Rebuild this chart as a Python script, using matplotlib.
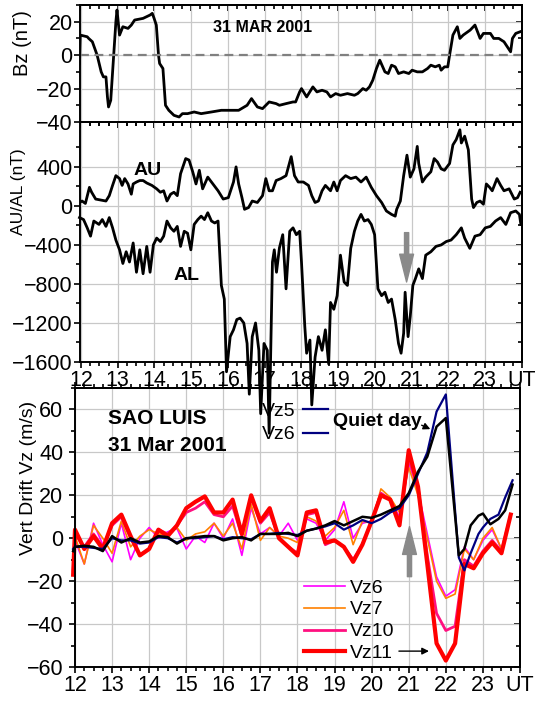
import matplotlib
matplotlib.use('Agg')
import matplotlib.pyplot as plt
from matplotlib.ticker import MultipleLocator, FixedLocator
from matplotlib.lines import Line2D

plt.rcParams['font.family'] = ['Liberation Sans', 'DejaVu Sans']
plt.rcParams['font.size'] = 14

# ---- IMF Bz (nT) ----
bz_t = [11.96, 11.98, 12.17, 12.21, 12.31, 12.44, 12.55, 12.61, 12.68, 12.72, 12.75, 12.81, 12.95, 12.98,
        13.05, 13.14, 13.28, 13.37, 13.46, 13.69, 13.88, 13.94, 13.99, 14.05, 14.11, 14.14, 14.23, 14.30,
        14.39, 14.53, 14.67, 14.76, 14.90, 15.08, 15.27, 15.55, 15.82, 16.29, 16.52, 16.64, 16.80, 16.94,
        17.12, 17.31, 17.40, 17.58, 17.77, 17.84, 17.95, 18.00, 18.14, 18.31, 18.42, 18.56, 18.69, 18.79,
        18.93, 19.06, 19.25, 19.44, 19.53, 19.67, 19.76, 19.85, 19.94, 20.04, 20.13, 20.19, 20.27, 20.36,
        20.45, 20.55, 20.64, 20.78, 20.92, 21.01, 21.15, 21.29, 21.43, 21.52, 21.64, 21.75, 21.80, 21.89,
        21.98, 22.03, 22.12, 22.24, 22.31, 22.40, 22.59, 22.72, 22.86, 22.95, 23.14, 23.23, 23.37, 23.51,
        23.60, 23.69, 23.74, 23.83, 23.95]
bz_v = [-5, 12, 11, 10, 8, 0, -10, -13, -13, -25, -31, -27, 20, 27,
        12, 17, 16, 18, 21, 22, 24, 25, 22, 18, 0, -5, -8, -30,
        -33, -36, -37, -35, -35, -34, -35, -34, -33, -33, -30, -26, -31, -32,
        -28, -29, -30, -29, -28, -28, -22, -20, -25, -19, -22, -21, -22, -25,
        -23, -24, -23, -24, -23, -20, -21, -19, -15, -8, -3, -6, -10, -11,
        -6, -7, -11, -10, -11, -9, -10, -10, -8, -6, -7, -6, -9, -7,
        -7, 0, 12, 17, 10, 12, 15, 18, 10, 13, 13, 10, 10, 8,
        5, 2, 10, 13, 14]

# ---- AU / AL (nT) ----
au_t = [11.96, 12.03, 12.12, 12.23, 12.29, 12.40, 12.54, 12.68, 12.77, 12.86,
        12.95, 13.05, 13.12, 13.19, 13.28, 13.37, 13.42, 13.51, 13.60, 13.69,
        13.79, 13.93, 14.06, 14.16, 14.25, 14.34, 14.44, 14.53, 14.62, 14.71,
        14.85, 14.94, 15.04, 15.13, 15.22, 15.31, 15.45, 15.59, 15.73, 15.87,
        16.01, 16.15, 16.22, 16.29, 16.38, 16.45, 16.56, 16.66, 16.80, 16.94,
        17.03, 17.12, 17.21, 17.31, 17.44, 17.58, 17.72, 17.81, 17.91, 18.05,
        18.19, 18.28, 18.37, 18.46, 18.56, 18.65, 18.79, 18.88, 18.97, 19.06,
        19.20, 19.34, 19.48, 19.62, 19.76, 19.90, 20.04, 20.18, 20.31, 20.45,
        20.55, 20.59, 20.69, 20.78, 20.87, 20.96, 21.06, 21.15, 21.19, 21.29,
        21.38, 21.52, 21.61, 21.70, 21.80, 21.89, 22.03, 22.12, 22.21, 22.31,
        22.35, 22.44, 22.54, 22.63, 22.68, 22.77, 22.86, 22.95, 23.03, 23.12,
        23.19, 23.32, 23.42, 23.51, 23.65, 23.79, 23.88, 23.95]
au_v = [35, 50, 25, 190, 140, 70, 60, 50, 105, 210,
        310, 280, 210, 280, 225, 120, 225, 245, 260, 260,
        235, 210, 175, 140, 155, 50, 120, 140, 105, 330,
        485, 470, 350, 225, 365, 175, 295, 225, 155, 70,
        85, 245, 400, 225, 85, -35, -17, 50, 35, 105,
        280, 155, 155, 260, 280, 310, 505, 310, 245, 245,
        210, 105, 35, 50, 155, 210, 155, 245, 155, 260,
        310, 280, 295, 245, 295, 190, 105, 35, -52, -87,
        -105, -35, 50, 310, 520, 295, 380, 610, 435, 245,
        295, 350, 485, 450, 380, 365, 435, 625, 680, 780,
        645, 715, 575, 70, -17, 35, 50, 17, 225, 190,
        155, 280, 210, 155, 175, 70, 85, 140]
al_t = [11.96, 12.07, 12.17, 12.26, 12.35, 12.49, 12.58, 12.68, 12.77, 12.86,
        12.95, 13.05, 13.14, 13.23, 13.32, 13.42, 13.51, 13.60, 13.69, 13.79,
        13.88, 13.97, 14.06, 14.16, 14.25, 14.34, 14.44, 14.53, 14.62, 14.71,
        14.81, 14.90, 14.99, 15.08, 15.18, 15.27, 15.36, 15.45, 15.55, 15.64,
        15.73, 15.82, 15.90, 15.96, 16.06, 16.15, 16.24, 16.33, 16.43, 16.52,
        16.58, 16.66, 16.75, 16.84, 16.89, 16.98, 17.07, 17.12, 17.21, 17.26,
        17.32, 17.40, 17.49, 17.58, 17.68, 17.77, 17.86, 17.95, 18.00, 18.09,
        18.14, 18.23, 18.28, 18.37, 18.46, 18.56, 18.65, 18.74, 18.79, 18.88,
        18.97, 19.06, 19.16, 19.25, 19.34, 19.44, 19.53, 19.62, 19.71, 19.81,
        19.90, 19.99, 20.08, 20.18, 20.27, 20.36, 20.45, 20.55, 20.64, 20.71,
        20.78, 20.82, 20.90, 20.96, 21.03, 21.10, 21.19, 21.29, 21.38, 21.52,
        21.66, 21.80, 21.94, 22.07, 22.21, 22.35, 22.44, 22.58, 22.72, 22.86,
        23.00, 23.14, 23.28, 23.42, 23.56, 23.69, 23.83, 23.93, 23.97]
al_v = [-120, -140, -225, -310, -155, -190, -140, -210, -120, -225,
        -350, -450, -590, -470, -575, -380, -680, -450, -695, -415,
        -680, -400, -330, -365, -310, -155, -225, -260, -210, -415,
        -260, -280, -450, -190, -140, -105, -140, -70, -155, -175,
        -155, -815, -955, -1700, -1340, -1270, -1165, -1150, -1200, -1410,
        -1930, -1340, -1200, -1480, -2130, -1410, -1480, -2330, -575, -450,
        -680, -430, -295, -850, -260, -225, -295, -260, -575, -1235,
        -1510, -1375, -2040, -1550, -1340, -1480, -1270, -1620, -990, -1060,
        -920, -505, -780, -815, -435, -260, -155, -87, -155, -140,
        -190, -295, -850, -920, -885, -990, -955, -1165, -1410, -1510,
        -1305, -885, -1340, -1130, -815, -745, -645, -745, -505, -470,
        -415, -400, -365, -350, -295, -225, -330, -435, -310, -295,
        -225, -210, -155, -120, -190, -70, -52, -87, -190]

# ---- vertical drift Vz (m/s), Sao Luis ----
vz_t = [11.95, 12.0, 12.25, 12.5, 12.75, 13.0, 13.25, 13.5, 13.75, 14.0, 14.25, 14.5, 14.75,
        15.0, 15.25, 15.5, 15.75, 16.0, 16.25, 16.5, 16.75, 17.0, 17.25, 17.5, 17.75,
        18.0, 18.25, 18.5, 18.75, 19.0, 19.25, 19.5, 19.75, 20.0, 20.25, 20.5, 20.75,
        21.0, 21.25, 21.5, 21.75, 22.0, 22.25, 22.5, 22.75, 23.0, 23.25, 23.5, 23.75]
vz11 = [-17, 4, -5, 1, -5, 7, 11, 1, -8, -5, 4, 1, 6, 14, 17, 19.5, 12, 12, 18, 2, 20, 8, 14, 0, -4,
        -8, 12, 13, -2, -1, -4, -11, -3, 8, 20, 18, 6, 41, 24, -12, -49, -57, -49, -12, -14, -7, -2, -7, 11]
vz10 = [-15, 2, -4, 2, -4, 6, 10, 0, -8, -5, 4, 2, 6, 12, 14, 17, 11, 10, 15, 1, 19, 7, 12, 0, -4,
        -7, 11, 12, -3, -1, -4, -10, -3, 8, 21, 18, 8, 37, 24, -8, -35, -43, -41, -10, -13, -6, -1, -6, 11]
vz7 = [-10, 1, -12, 6, 0, -7, 8, -4, 1, 4, 2, 1.5, 5, -1, 2, 3, 7, 1, 7, -5, 16, -1, 5, 1, 0,
       -2, 10, 8, 1, 5, 13, -3, 8, 7, 23, 19, 12, 33, 20, 0, -20, -28, -26, -5, -10, 0, 5, -5]
vz6 = [-12, -1, -12, 7, -3, -11, 7, -10, 0, 5, 0, 3, 4.5, -5, 1, -2, 7, 0, 9, -8, 14, 2, 5, 1, 7,
       -1, 9, 7, -1, 4, 17, 0, 7, 8, 21, 18, 10, 35, 22, 2, -18, -27, -24, -4, -10, -1, 4, -5]
q_t = [11.95, 12.0, 12.25, 12.5, 12.75, 13.0, 13.25, 13.5, 13.75, 14.0, 14.25, 14.5, 14.75,
       15.0, 15.25, 15.5, 15.75, 16.0, 16.25, 16.5, 16.75, 17.0, 17.25, 17.5, 17.75,
       18.0, 18.25, 18.5, 18.75, 19.0, 19.25, 19.5, 19.75, 20.0, 20.25, 20.5, 20.75,
       21.0, 21.25, 21.5, 21.75, 22.0, 22.35, 22.5, 22.67, 22.88, 23.0, 23.2, 23.42, 23.6, 23.8]
quiet = [-6, -4, -3.5, -4, -6, 1, -2, 0, -2, -1.5, 1, 0.5, -2.5, 0, 0.5, 1, 1, -1, 0, 0.5, -1, 2, 2, 2, 2.5,
         1, 3.5, 4.5, 6, 8, 6, 8, 10, 9.5, 11, 13, 15, 21, 31, 38, 52, 56, -8, -5, 6, 10.5, 11.5, 6.5, 9, 13, 25]
vz5 = [-5, -4, -4, -4.5, -5, 0, -1, -1, -2.5, -2, 0.5, 0, -2, 0, 0, 0.5, 1, -0.5, 0.5, 0, -0.5, 2, 2, 2.5, 2,
       1.5, 3.5, 4.5, 5.5, 7, 4, 6, 8.5, 7, 9, 12, 14, 20, 30, 40, 59, 67, -9, -15, -7, 2, 5, 9, 11, 19, 27]

hours = list(range(12, 25))
hour_labels = [str(h) for h in range(12, 24)] + ['UT']

W, H = 535, 702
fig = plt.figure(figsize=(W / 100, H / 100), dpi=100)


def box(l, t, r, b):
    return [l / W, 1 - b / H, (r - l) / W, (b - t) / H]


ax1 = fig.add_axes(box(79.5, 5, 522, 122))
ax2 = fig.add_axes(box(79.5, 122, 522, 362))
ax3 = fig.add_axes(box(75, 388, 520, 667))
ax2.set_zorder(5)
ax2.patch.set_alpha(0)

TICKFS = 15.5


def style(ax, ymaj, ymin, topdir, ypad, xlabels):
    ax.set_xticks(hours)
    ax.xaxis.set_minor_locator(MultipleLocator(0.25))
    ax.yaxis.set_major_locator(FixedLocator(ymaj))
    ax.yaxis.set_minor_locator(FixedLocator(ymin))
    if xlabels:
        ax.set_xticklabels(hour_labels)
    ax.tick_params(which='both', direction='out', top=False, right=False, width=1.2,
                   labelbottom=xlabels, labelsize=TICKFS)
    ax.tick_params(which='major', length=4.5)
    ax.tick_params(which='minor', length=3)
    ax.tick_params(axis='y', pad=ypad)
    ax.tick_params(axis='x', pad=1.5)
    ax.grid(True, which='major', color='#c8c8c8', lw=0.9)
    ax.set_axisbelow(True)
    for s in ax.spines.values():
        s.set_linewidth(1.4)
    sx = ax.secondary_xaxis('top')
    sx.set_xticks(hours)
    sx.xaxis.set_minor_locator(MultipleLocator(0.25))
    sx.tick_params(which='both', direction=topdir, labeltop=False, width=1.2)
    sx.tick_params(which='major', length=4.5)
    sx.tick_params(which='minor', length=3)
    sx.spines['top'].set_linewidth(1.4)
    sy = ax.secondary_yaxis('right')
    sy.yaxis.set_major_locator(FixedLocator(ymaj))
    sy.yaxis.set_minor_locator(FixedLocator(ymin))
    sy.tick_params(which='both', direction='in', labelright=False, width=1.2)
    sy.tick_params(which='major', length=4.5)
    sy.tick_params(which='minor', length=3)
    sy.spines['right'].set_linewidth(1.4)


# ---- panel 1: Bz ----
ax1.plot(bz_t, bz_v, color='black', lw=2.0)
ax1.axhline(0, color='#808080', lw=1.6, ls=(0, (4, 2.5)))
ax1.set_xlim(11.96, 24)
ax1.set_ylim(-40, 30)
style(ax1, [-40, -20, 0, 20], list(range(-40, 31, 10)), 'in', 0.5, False)
ax1.text(16.93, 16.7, '31 MAR 2001', ha='center', va='center', fontsize=11.5, fontweight='bold')

# ---- panel 2: AU / AL ----
ax2.plot(au_t, au_v, color='black', lw=2.0)
ax2.plot(al_t, al_v, color='black', lw=2.0, clip_on=False)
ax2.set_xlim(11.96, 24)
ax2.set_ylim(-1600, 860)
style(ax2, [-1600, -1200, -800, -400, 0, 400], list(range(-1600, 601, 200)), 'in', 0.5, True)
ax2.text(13.81, 358, 'AU', ha='center', va='center', fontsize=14, fontweight='bold')
ax2.text(14.88, -711, 'AL', ha='center', va='center', fontsize=14, fontweight='bold')
ax2.annotate('', xy=(20.86, -780), xytext=(20.86, -274),
             arrowprops=dict(facecolor='#8a8a8a', edgecolor='#8a8a8a', width=3, headwidth=10,
                             headlength=20, shrink=0))

# ---- panel 3: vertical drift ----
l6, = ax3.plot(vz_t[:len(vz6)], vz6, color='#ff00ff', lw=1.2, clip_on=False)
l7, = ax3.plot(vz_t[:len(vz7)], vz7, color='#ff8000', lw=1.2, clip_on=False)
l10, = ax3.plot(vz_t, vz10, color='#ff1080', lw=2.0, clip_on=False)
l11, = ax3.plot(vz_t, vz11, color='#ff0000', lw=3.0, clip_on=False)
l5, = ax3.plot(q_t, vz5, color='#000080', lw=1.6, clip_on=False)
ax3.plot(q_t, quiet, color='black', lw=1.8, clip_on=False)
ax3.set_xlim(12, 24)
ax3.set_ylim(-60, 70)
style(ax3, list(range(-60, 61, 20)), list(range(-60, 71, 10)), 'out', 4, True)

ax3.text(12.9, 56, 'SAO LUIS', ha='left', va='center', fontsize=15, fontweight='bold')
ax3.text(12.9, 43.4, '31 Mar 2001', ha='left', va='center', fontsize=15, fontweight='bold')
ax3.text(18.97, 54.4, 'Quiet day', ha='left', va='center', fontsize=14, fontweight='bold')
ax3.annotate('', xy=(21.65, 50.3), xytext=(21.28, 53.2),
             arrowprops=dict(arrowstyle='-|>', color='black', lw=1, mutation_scale=10))
ax3.annotate('', xy=(21.62, -52.6), xytext=(20.66, -52.6),
             arrowprops=dict(arrowstyle='-|>', color='black', lw=1, mutation_scale=10))
ax3.annotate('', xy=(21.02, 5.4), xytext=(21.02, -17.9),
             arrowprops=dict(facecolor='#8a8a8a', edgecolor='#8a8a8a', width=3, headwidth=10,
                             headlength=20, shrink=0))

leg1 = ax3.legend([l6, l7, l10, l11], ['Vz6', 'Vz7', 'Vz10', 'Vz11'], loc='upper left',
                  bbox_to_anchor=(303.8 / W, 1 - 579 / H), bbox_transform=fig.transFigure,
                  frameon=False, borderpad=0, borderaxespad=0, handlelength=2.1,
                  handletextpad=0.25, labelspacing=0.22, fontsize=14)
ax3.add_artist(leg1)
ax3.legend([l5, Line2D([], [], color='#000080', lw=1.6)], ['Vz5', 'Vz6'], loc='upper right',
           bbox_to_anchor=(328 / W, 1 - 402 / H), bbox_transform=fig.transFigure,
           frameon=False, borderpad=0, borderaxespad=0, handlelength=1.3,
           handletextpad=0.35, labelspacing=0.32, fontsize=14, markerfirst=False)

fig.text(22 / W, 1 - 43 / H, 'Bz (nT)', rotation=90, ha='center', va='center', fontsize=14.5)
fig.text(19 / W, 1 - 192 / H, 'AU/AL (nT)', rotation=90, ha='center', va='center', fontsize=12.5)
fig.text(29 / W, 1 - 478 / H, 'Vert Drift Vz (m/s)', rotation=90, ha='center', va='center', fontsize=14)

fig.savefig('out.png', dpi=100)
